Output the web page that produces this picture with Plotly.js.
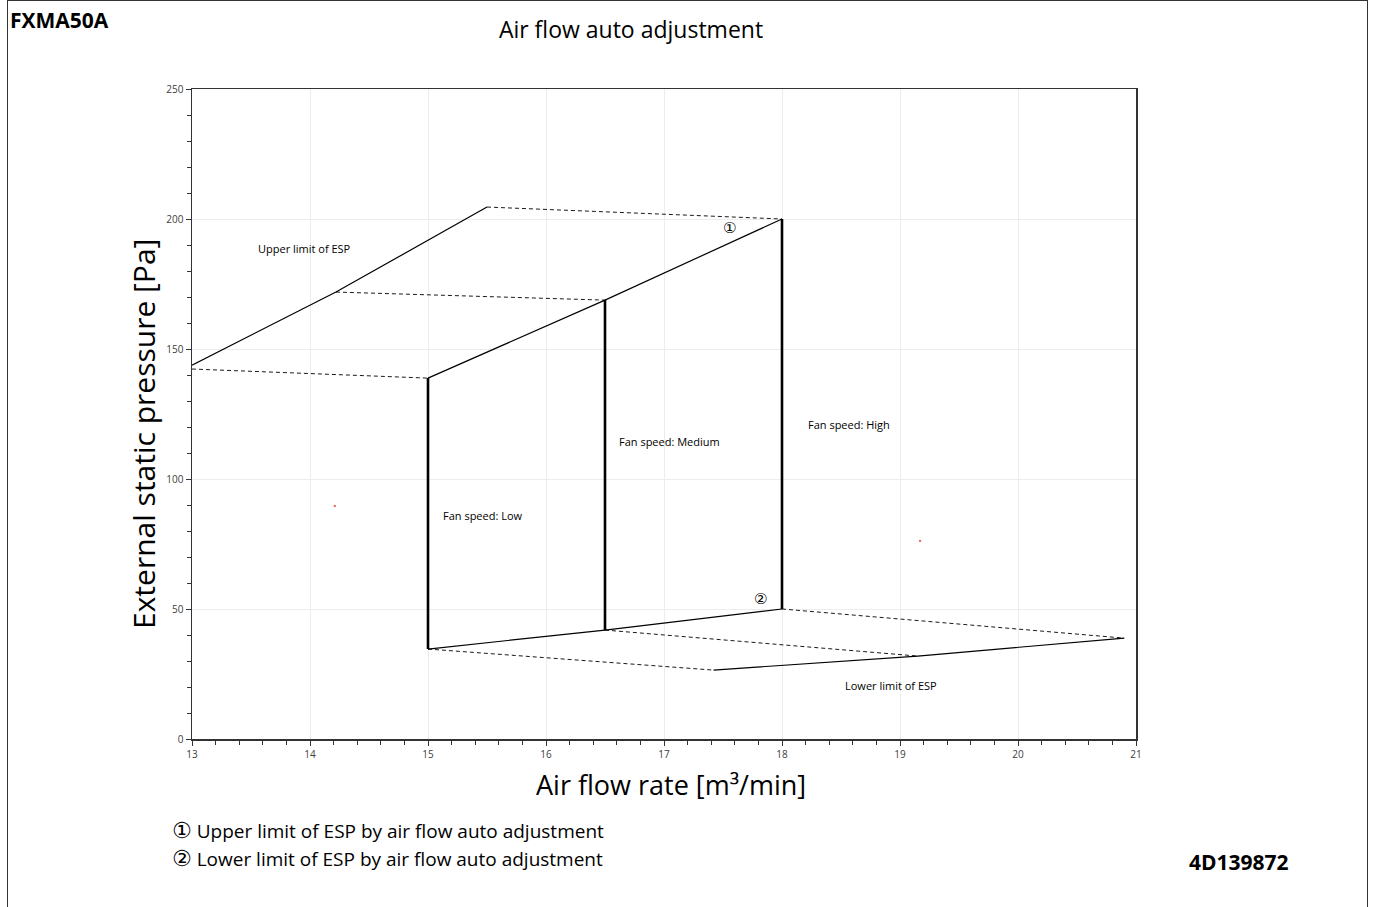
<!DOCTYPE html>
<html>
<head>
<meta charset="utf-8">
<script src="https://cdn.plot.ly/plotly-3.0.1.min.js"></script>
<style>
  html, body { margin: 0; padding: 0; background: #fff; }
  #wrap { position: relative; width: 1375px; height: 907px; overflow: hidden; }
  #chart { width: 1375px; height: 907px; }
  #frame { position: absolute; left: 7px; top: 0px; width: 1359px; height: 910px;
           border: 1px solid #333; pointer-events: none; }
</style>
</head>
<body>
<div id="wrap">
  <div id="chart"></div>
  <div id="frame"></div>
</div>
<script>
// ---- data ----
const xTickVals = [13, 14, 15, 16, 17, 18, 19, 20, 21];
const yTickVals = [0, 50, 100, 150, 200, 250];

// Upper limit of ESP (solid)
const upperLimitX = [13.0, 14.22, 15.5];
const upperLimitY = [143.8, 171.9, 204.6];

// Upper limit of ESP by air flow auto adjustment (solid)
const autoUpperX = [15.0, 16.5, 18.0];
const autoUpperY = [138.8, 168.8, 200.0];

// Lower limit of ESP by air flow auto adjustment (solid)
const autoLowerX = [15.0, 16.5, 18.0];
const autoLowerY = [34.6, 41.9, 50.0];

// Lower limit of ESP (solid)
const lowerLimitX = [17.42, 19.15, 20.9];
const lowerLimitY = [26.5, 31.9, 38.8];

// Fan speed verticals (thick)
const fanLowX = [15.0, 15.0];   const fanLowY = [34.6, 138.8];
const fanMedX = [16.5, 16.5];   const fanMedY = [41.9, 168.8];
const fanHighX = [18.0, 18.0];  const fanHighY = [50.0, 200.0];

// Dashed connectors (upper)
const dashUp1X = [13.0, 15.0];   const dashUp1Y = [142.3, 138.8];
const dashUp2X = [14.22, 16.5];  const dashUp2Y = [171.9, 168.8];
const dashUp3X = [15.5, 18.0];   const dashUp3Y = [204.6, 200.0];
// Dashed connectors (lower)
const dashLo1X = [15.0, 17.42];  const dashLo1Y = [34.6, 26.5];
const dashLo2X = [16.5, 19.15];  const dashLo2Y = [41.9, 31.9];
const dashLo3X = [18.0, 20.9];   const dashLo3Y = [50.0, 38.8];

// stray small markers visible in the reference
const strayX = [14.21, 19.17];
const strayY = [89.6, 76.2];

const labelTexts = ["Upper limit of ESP", "Fan speed: Low", "Fan speed: Medium", "Fan speed: High", "Lower limit of ESP", "\u2460", "\u2461"];
const labelX = [13.54, 15.11, 16.6, 18.2, 18.92, 17.63, 17.89];
const labelY = [188.5, 85.8, 114.6, 120.8, 20.5, 196.5, 53.8];
const labelAnchor = ["left", "left", "left", "left", "center", "right", "right"];

const chartTitle = "Air flow auto adjustment";
const xTitle = "Air flow rate [m³/min]";
const yTitle = "External static pressure [Pa]";
const legendNotes = ["Upper limit of ESP by air flow auto adjustment", "Lower limit of ESP by air flow auto adjustment"];
const legendMarks = ["\u2460", "\u2461"];

// ---- traces ----
const font = "Open Sans, Liberation Sans, sans-serif";
function line(x, y, w, dash) {
  return { x: x, y: y, type: "scatter", mode: "lines", hoverinfo: "skip",
           line: { color: "#000", width: w, dash: dash || "solid" }, showlegend: false };
}
const dashStyle = "4px,3px";
const traces = [
  line(upperLimitX, upperLimitY, 1.2),
  line(autoUpperX, autoUpperY, 1.2),
  line(autoLowerX, autoLowerY, 1.2),
  line(lowerLimitX, lowerLimitY, 1.2),
  line(fanLowX, fanLowY, 2.6),
  line(fanMedX, fanMedY, 2.6),
  line(fanHighX, fanHighY, 2.6),
  line(dashUp1X, dashUp1Y, 0.9, dashStyle),
  line(dashUp2X, dashUp2Y, 0.9, dashStyle),
  line(dashUp3X, dashUp3Y, 0.9, dashStyle),
  line(dashLo1X, dashLo1Y, 0.9, dashStyle),
  line(dashLo2X, dashLo2Y, 0.9, dashStyle),
  line(dashLo3X, dashLo3Y, 0.9, dashStyle),
  { x: strayX, y: strayY, type: "scatter", mode: "markers", hoverinfo: "skip", showlegend: false,
    marker: { color: "#e06060", size: 2, symbol: "square" } }
];

const annotations = labelTexts.map((t, i) => ({
  x: labelX[i], y: labelY[i], xref: "x", yref: "y", text: t, showarrow: false,
  xanchor: labelAnchor[i], yanchor: "middle",
  font: { family: i >= 5 ? "DejaVu Sans, sans-serif" : font, size: i >= 5 ? 15 : 11, color: "#000" }
}));

// page texts (paper coords: x px = 192 + 944*x, y px = 739 - 650*y)
function px(x) { return (x - 192) / 944; }
function py(y) { return (739 - y) / 650; }
annotations.push(
  { xref: "paper", yref: "paper", x: px(8), y: py(20), text: "<b>FXMA50A</b>",
    showarrow: false, xanchor: "left", yanchor: "middle", font: { family: font, size: 21, color: "#000" } },
  { xref: "paper", yref: "paper", x: px(1291), y: py(862), text: "<b>4D139872</b>",
    showarrow: false, xanchor: "right", yanchor: "middle", font: { family: font, size: 21, color: "#000" } },
  { xref: "paper", yref: "paper", x: px(671), y: py(784), text: xTitle,
    showarrow: false, xanchor: "center", yanchor: "middle", font: { family: font, size: 27, color: "#000" } },
  { xref: "paper", yref: "paper", x: px(143), y: py(434), text: yTitle, textangle: -90,
    showarrow: false, xanchor: "center", yanchor: "middle", font: { family: font, size: 30, color: "#000" } }
);
legendNotes.forEach((t, i) => {
  annotations.push({ xref: "paper", yref: "paper", x: px(170), y: py(831 + 28 * i),
    text: '<span style="font-family:DejaVu Sans;font-size:22px">' + legendMarks[i] + '</span> ' + t,
    showarrow: false, xanchor: "left", yanchor: "middle", font: { family: font, size: 19, color: "#000" } });
});

const layout = {
  width: 1375, height: 907,
  margin: { l: 192, r: 239, t: 89, b: 168, pad: 0 },
  paper_bgcolor: "#fff", plot_bgcolor: "#fff",
  showlegend: false,
  title: { text: chartTitle, x: 631 / 1375, xanchor: "center", y: 1 - 30 / 907, yanchor: "middle",
           font: { family: font, size: 23, color: "#000" } },
  xaxis: {
    range: [13, 21], tickvals: xTickVals, ticktext: xTickVals.map(String),
    showgrid: true, gridcolor: "#ececec", gridwidth: 1, zeroline: false,
    showline: true, linecolor: "#333", linewidth: 1.5, mirror: true,
    ticks: "outside", ticklen: 5, tickcolor: "#333", tickwidth: 1,
    minor: { dtick: 0.2, ticks: "outside", ticklen: 4, tickcolor: "#333", showgrid: false },
    tickfont: { family: font, size: 10, color: "#404040" }
  },
  yaxis: {
    range: [0, 250], tickvals: yTickVals, ticktext: yTickVals.map(String),
    showgrid: true, gridcolor: "#ececec", gridwidth: 1, zeroline: false,
    showline: true, linecolor: "#333", linewidth: 1.5, mirror: true,
    ticks: "outside", ticklen: 5, tickcolor: "#333", tickwidth: 1,
    minor: { dtick: 10, ticks: "outside", ticklen: 4, tickcolor: "#333", showgrid: false },
    tickfont: { family: font, size: 10, color: "#404040" }
  },
  annotations: annotations
};

Plotly.newPlot("chart", traces, layout, { staticPlot: true, displayModeBar: false });
</script>
</body>
</html>
